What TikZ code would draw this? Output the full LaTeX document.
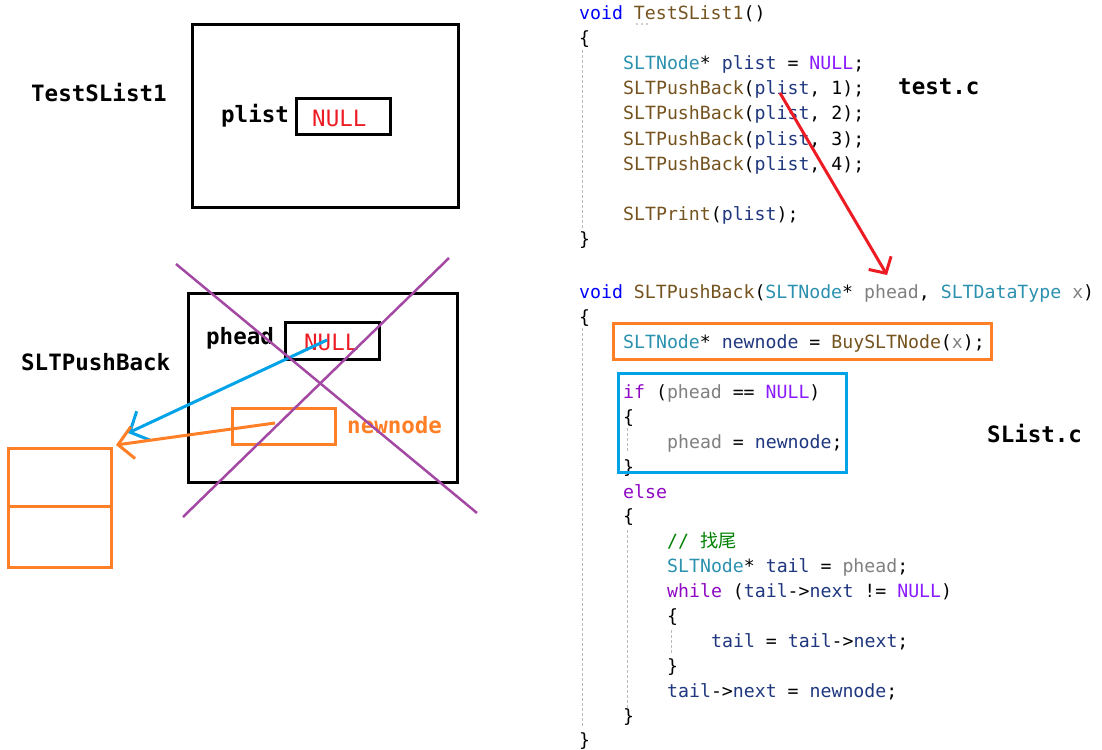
\documentclass[tikz,border=0pt]{standalone}
\usepackage{fontspec}
\setmonofont{DejaVu Sans Mono}
\newfontfamily\cjk{Noto Sans CJK SC}
\usepackage{xcolor}
\usepackage{tikz}
\usetikzlibrary{arrows.meta}
\definecolor{VSBlue}{RGB}{0,0,255}
\definecolor{VSBrown}{RGB}{116,83,31}
\definecolor{VSTeal}{RGB}{43,145,175}
\definecolor{VSNavy}{RGB}{31,55,127}
\definecolor{VSMacro}{RGB}{138,27,255}
\definecolor{VSGray}{RGB}{128,128,128}
\definecolor{VSCtl}{RGB}{143,8,196}
\definecolor{VSGreen}{RGB}{0,128,0}
\definecolor{PaintRed}{RGB}{237,28,36}
\definecolor{PaintOrange}{RGB}{255,127,39}
\definecolor{PaintBlue}{RGB}{0,162,232}
\definecolor{PaintPurple}{RGB}{163,73,164}
\newcommand{\ckw}[1]{\textcolor{VSBlue}{#1}}
\newcommand{\cfn}[1]{\textcolor{VSBrown}{#1}}
\newcommand{\ctype}[1]{\textcolor{VSTeal}{#1}}
\newcommand{\cvar}[1]{\textcolor{VSNavy}{#1}}
\newcommand{\cmac}[1]{\textcolor{VSMacro}{#1}}
\newcommand{\cpar}[1]{\textcolor{VSGray}{#1}}
\newcommand{\cctl}[1]{\textcolor{VSCtl}{#1}}
\newcommand{\ccom}[1]{\textcolor{VSGreen}{#1}}

\begin{document}
\begin{tikzpicture}[x=1pt, y=-1pt,
          code/.style={anchor=base west, inner sep=0pt,
                       font=\fontsize{18.2}{25}\selectfont\ttfamily},
          lbl/.style={anchor=base west, inner sep=0pt,
                      font=\fontsize{22.5}{27}\selectfont\ttfamily\bfseries},
          nullval/.style={lbl, font=\fontsize{22.5}{27}\selectfont\ttfamily, text=PaintRed},
          frame/.style={draw, line width=3pt, inner sep=0pt},
          guide/.style={VSGray!55, line width=0.8pt, dash pattern=on 3pt off 2pt},
          arr/.style={-{Straight Barb[length=15pt, width=32pt]}, line width=3pt},
          cross/.style={PaintPurple, line width=2.5pt}
        ]
        \useasboundingbox (0,0) rectangle (1102,749);

        % test.c
        \node[code] (c1)  at (579,20)  {\ckw{void} \cfn{TestSList1}()};
        \node[code] (c2)  at (579,45)  {\{};
        \node[code] (c3)  at (623,70)  {\ctype{SLTNode}* \cvar{plist} = \cmac{NULL};};
        \node[code] (c4)  at (623,95)  {\cfn{SLTPushBack}(\cvar{plist}, 1);};
        \node[code] (c5)  at (623,120) {\cfn{SLTPushBack}(\cvar{plist}, 2);};
        \node[code] (c6)  at (623,145) {\cfn{SLTPushBack}(\cvar{plist}, 3);};
        \node[code] (c7)  at (623,170) {\cfn{SLTPushBack}(\cvar{plist}, 4);};
        \node[code] (c8)  at (623,220) {\cfn{SLTPrint}(\cvar{plist});};
        \node[code] (c9)  at (579,245) {\}};

        % SList.c
        \node[code] (s1)  at (579,298) {\ckw{void} \cfn{SLTPushBack}(\ctype{SLTNode}* \cpar{phead}, \ctype{SLTDataType} \cpar{x})};
        \node[code] (s2)  at (579,323) {\{};
        \node[code] (s3)  at (623,348) {\ctype{SLTNode}* \cvar{newnode} = \cfn{BuySLTNode}(\cpar{x});};
        \node[code] (s4)  at (623,398) {\cctl{if} (\cpar{phead} == \cmac{NULL})};
        \node[code] (s5)  at (623,423) {\{};
        \node[code] (s6)  at (667,448) {\cpar{phead} = \cvar{newnode};};
        \node[code] (s7)  at (623,473) {\}};
        \node[code] (s8)  at (623,498) {\cctl{else}};
        \node[code] (s9)  at (623,522) {\{};
        \node[code] (s10) at (667,547) {\ccom{// {\cjk 找尾}}};
        \node[code] (s11) at (667,572) {\ctype{SLTNode}* \cvar{tail} = \cpar{phead};};
        \node[code] (s12) at (667,597) {\cctl{while} (\cvar{tail}->\cvar{next} != \cmac{NULL})};
        \node[code] (s13) at (667,622) {\{};
        \node[code] (s14) at (711,647) {\cvar{tail} = \cvar{tail}->\cvar{next};};
        \node[code] (s15) at (667,672) {\}};
        \node[code] (s16) at (667,697) {\cvar{tail}->\cvar{next} = \cvar{newnode};};
        \node[code] (s17) at (623,722) {\}};
        \node[code] (s18) at (579,746) {\}};

        % indent guides
        \draw[guide] (582,50) -- (582,228);
        \draw[guide] (582,328) -- (582,728);
        \draw[guide] (627,428) -- (627,451);
        \draw[guide] (627,530) -- (627,708);
        \draw[guide] (671,630) -- (671,654);
        \foreach \dx in {637,642,647}
          \fill[VSGray!80] (\dx,24) circle (0.9);

        % highlights
        \node[frame, draw=PaintOrange, minimum width=378pt, minimum height=36pt] (hlnew) at (802.5,341.5) {};
        \node[frame, draw=PaintBlue, minimum width=228pt, minimum height=99pt] (hlif) at (732.5,423) {};

        \node[lbl] (testc) at (898,95)  {test.c};
        \node[lbl] (slistc) at (987,442) {SList.c};

        % caller frame
        \node[lbl] (tsname) at (31,102) {TestSList1};
        \node[frame, minimum width=266pt, minimum height=183pt] (tsframe) at (325.5,116) {};
        \node[frame, minimum width=94pt, minimum height=36pt] (plistbox) at (343.5,116.5) {};
        \node[lbl] (plistname) at (221,123) {plist};
        \node[nullval] (plistval) at (312,127) {NULL};

        % callee frame
        \node[lbl] (pbname) at (21,370) {SLTPushBack};
        \node[frame, minimum width=269pt, minimum height=189pt] (pbframe) at (323,388) {};
        \node[frame, minimum width=94pt, minimum height=37pt] (pheadbox) at (332.5,341) {};
        \node[lbl] (pheadname) at (206,344) {phead};
        \node[nullval] (pheadval) at (304,350) {NULL};
        \node[frame, draw=PaintOrange, minimum width=103pt, minimum height=36pt] (nnbox) at (284,426.5) {};
        \node[lbl, text=PaintOrange] (nnname) at (347,433) {newnode};

        % heap node
        \node[frame, draw=PaintOrange, minimum width=103pt, minimum height=57.5pt] (celltop) at (60,477.25) {};
        \node[frame, draw=PaintOrange, minimum width=103pt, minimum height=61.5pt] (cellbot) at (60,536.75) {};

        % arrows
        \coordinate (plistref) at (780,93);
        \coordinate (pheadref) at (887,275);
        \coordinate (nullref) at (327,340);
        \coordinate (blueend) at (128,433);
        \coordinate (nnref) at (275,423);
        \coordinate (orangeend) at (116,445);
        \draw[arr, PaintRed, -{Straight Barb[length=12pt, width=26pt]}] (plistref) -- (pheadref);
        \draw[arr, PaintBlue] (nullref) -- (blueend);
        \draw[arr, PaintOrange] (nnref) -- (orangeend);

        % crossed out
        \draw[cross] (176,264) -- (477,513);
        \draw[cross] (449,258) -- (183,517);
      \end{tikzpicture}
\end{document}
